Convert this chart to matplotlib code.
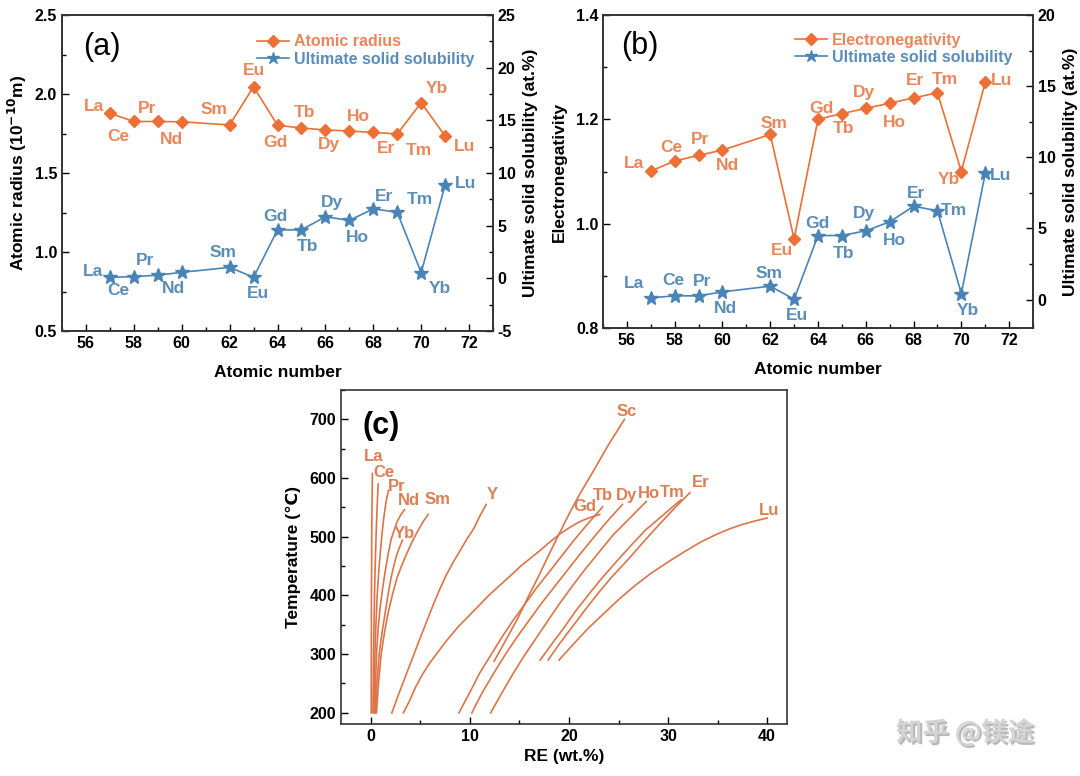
import matplotlib
matplotlib.use('Agg')
import matplotlib.pyplot as plt
import matplotlib.patheffects as pe
from matplotlib.ticker import MultipleLocator
from matplotlib.lines import Line2D

plt.rcParams['font.family'] = ['Liberation Sans', 'DejaVu Sans']
plt.rcParams['font.weight'] = 'bold'
plt.rcParams['axes.labelweight'] = 'bold'
plt.rcParams['axes.unicode_minus'] = False

# ---------------- data ----------------
elements = ['La', 'Ce', 'Pr', 'Nd', 'Sm', 'Eu', 'Gd', 'Tb', 'Dy', 'Ho', 'Er', 'Tm', 'Yb', 'Lu']
atomic_number = [57, 58, 59, 60, 62, 63, 64, 65, 66, 67, 68, 69, 70, 71]
atomic_radius = [1.878, 1.826, 1.826, 1.824, 1.804, 2.046, 1.802, 1.785, 1.772, 1.766, 1.757, 1.747, 1.945, 1.734]
solubility_a = [0.10, 0.16, 0.30, 0.57, 1.04, 0.10, 4.60, 4.60, 5.85, 5.50, 6.60, 6.27, 0.54, 8.86]
electronegativity = [1.101, 1.120, 1.131, 1.141, 1.171, 0.971, 1.200, 1.211, 1.221, 1.231, 1.241, 1.251, 1.100, 1.271]
solubility_b = [0.12, 0.26, 0.26, 0.54, 0.94, 0.02, 4.50, 4.50, 4.83, 5.46, 6.56, 6.24, 0.42, 8.86]

# panel (c): solubility curves, RE wt.% vs temperature
la_wt = [0.05, 0.05, 0.06, 0.07, 0.09, 0.10, 0.13, 0.17]
la_T = [200, 250, 300, 400, 450, 500, 560, 608]
ce_wt = [0.22, 0.25, 0.28, 0.33, 0.38, 0.44, 0.50, 0.56, 0.62, 0.69, 0.76]
ce_T = [200, 250, 300, 350, 400, 445, 480, 512, 540, 568, 590]
pr_wt = [0.32, 0.36, 0.42, 0.52, 0.65, 0.80, 0.95, 1.12, 1.30, 1.55, 1.79]
pr_T = [200, 250, 300, 350, 400, 438, 470, 502, 530, 560, 579]
nd_wt = [0.42, 0.48, 0.58, 0.75, 0.95, 1.20, 1.45, 1.75, 2.05, 2.40, 2.70, 3.05, 3.40]
nd_T = [200, 250, 300, 345, 380, 412, 440, 470, 495, 513, 527, 538, 546]
yb_wt = [0.48, 0.62, 0.85, 1.15, 1.45, 1.75, 2.05, 2.35, 2.60, 2.95, 3.20]
yb_T = [200, 250, 300, 338, 370, 402, 430, 452, 468, 484, 494]
sm_wt = [0.58, 0.78, 1.05, 1.40, 1.75, 2.20, 2.65, 3.15, 3.65, 4.20, 4.75, 5.30, 5.80]
sm_T = [200, 250, 300, 338, 370, 402, 430, 452, 472, 492, 510, 526, 538]
y_wt = [2.13, 2.80, 3.50, 4.25, 5.00, 5.70, 6.40, 7.00, 7.60, 8.30, 9.00, 9.70, 10.40, 11.00, 11.65]
y_T = [200, 231, 262, 295, 328, 358, 388, 412, 434, 456, 476, 496, 514, 535, 555]
gd_wt = [3.30, 3.90, 4.50, 5.20, 6.00, 6.80, 7.60, 8.90, 10.30, 11.90, 13.60, 15.20, 16.90,
         18.00, 19.10, 20.10, 21.00, 22.00, 23.10]
gd_T = [200, 220, 243, 265, 286, 304, 322, 348, 372, 400, 426, 451, 474,
        490, 505, 516, 525, 532, 538]
sc_wt = [12.45, 13.60, 14.80, 15.90, 17.00, 18.05, 19.10, 20.05, 21.00, 22.50, 24.00, 25.60]
sc_T = [288, 323, 360, 398, 435, 472, 508, 540, 570, 613, 657, 700]
tb_wt = [8.90, 10.00, 11.00, 12.10, 13.20, 14.30, 15.50, 16.70, 18.00, 19.30, 20.60, 22.00, 23.40]
tb_T = [200, 235, 268, 298, 328, 356, 384, 412, 440, 468, 496, 524, 551]
dy_wt = [10.20, 11.30, 12.50, 13.60, 14.80, 16.00, 17.20, 18.50, 19.80, 21.10, 22.50, 23.90, 25.40]
dy_T = [200, 236, 270, 300, 330, 358, 386, 414, 442, 470, 499, 527, 555]
ho_wt = [12.10, 13.20, 14.30, 15.40, 16.60, 17.80, 19.00, 20.30, 21.60, 23.00, 24.40, 26.10, 27.80]
ho_T = [200, 233, 265, 295, 325, 355, 385, 415, 444, 473, 502, 531, 560]
tm_wt = [17.10, 18.30, 19.50, 20.70, 22.00, 23.30, 24.70, 26.20, 27.70, 29.50, 31.30]
tm_T = [290, 318, 345, 374, 402, 429, 456, 484, 511, 537, 563]
er_wt = [17.90, 19.10, 20.40, 21.70, 23.00, 24.40, 25.90, 27.40, 28.90, 30.50, 32.20]
er_T = [290, 319, 348, 377, 405, 433, 460, 489, 517, 546, 575]
lu_wt = [19.00, 20.50, 22.00, 23.50, 24.95, 26.60, 28.30, 30.00, 31.60, 33.30, 35.00,
         36.30, 37.50, 38.80, 40.00]
lu_T = [290, 318, 345, 369, 392, 416, 438, 457, 474, 491, 505, 514, 521, 527, 532]

# ---------------- styling ----------------
ORANGE = '#EC6F36'
ORANGE_T = '#EA875A'
BLUE = '#4A84B6'
BLUE_T = '#5A8DBA'
CLINE = '#DC7447'
CTEXT = '#DD7E55'
LBL = 12.5

fig = plt.figure(figsize=(10.8, 7.76), dpi=100)


def style_axis(ax):
    ax.tick_params(which='both', direction='in', labelsize=11.5, width=1.0)
    ax.tick_params(which='major', length=5)
    ax.tick_params(which='minor', length=3)
    for s in ax.spines.values():
        s.set_linewidth(1.2)
        s.set_color('#333333')
    for lab in ax.get_xticklabels() + ax.get_yticklabels():
        lab.set_fontweight('bold')


def label_points(ax, xs, ys, names, offsets, color):
    for x, y, n, (dx, dy) in zip(xs, ys, names, offsets):
        ax.annotate(n, (x, y), xytext=(dx, dy), textcoords='offset pixels',
                    ha='center', va='center', fontsize=LBL, fontweight='bold', color=color)


# ---------- panel (a) ----------
axA = fig.add_axes([62 / 1080, 1 - 331 / 776, 431 / 1080, 316 / 776])
axA2 = axA.twinx()
axA.plot(atomic_number, atomic_radius, '-D', color=ORANGE, lw=1.2, ms=6.5)
axA2.plot(atomic_number, solubility_a, '-*', color=BLUE, lw=1.2, ms=10.5)
axA.set_xlim(55, 73)
axA.set_ylim(0.5, 2.5)
axA2.set_ylim(-5, 25)
axA.xaxis.set_major_locator(MultipleLocator(2))
axA.xaxis.set_minor_locator(MultipleLocator(1))
axA.yaxis.set_major_locator(MultipleLocator(0.5))
axA.yaxis.set_minor_locator(MultipleLocator(0.25))
axA2.yaxis.set_major_locator(MultipleLocator(5))
axA2.yaxis.set_minor_locator(MultipleLocator(2.5))
axA.set_xlabel('Atomic number', fontsize=12.5, fontweight='bold', labelpad=10)
axA.set_ylabel('Atomic radius (10$^{\\mathbf{-10}}$m)', fontsize=12.5, fontweight='bold', labelpad=4)
axA2.set_ylabel('Ultimate solid solubility (at.%)', fontsize=12.5, fontweight='bold', labelpad=5)
style_axis(axA)
style_axis(axA2)
axA.text(0.093, 0.90, '(a)', transform=axA.transAxes, fontsize=22, fontweight='normal',
         ha='center', va='center')
off_rad_a = [(-16, 7), (-16, -15), (-11, 13), (-10, -18), (-16, 15), (0, 16), (-2, -17),
             (3, 15), (4, -14), (9, 14), (13, -16), (22, -17), (16, 14), (19, -10)]
off_sol_a = [(-17, 6), (-16, -14), (-13, 15), (-8, -16), (-7, 15), (4, -16), (-2, 13),
             (6, -17), (7, 14), (8, -17), (11, 12), (23, 13), (19, -16), (20, 2)]
label_points(axA, atomic_number, atomic_radius, elements, off_rad_a, ORANGE_T)
label_points(axA2, atomic_number, solubility_a, elements, off_sol_a, BLUE_T)
hA = [Line2D([], [], color=ORANGE, marker='D', ms=6, lw=1.2),
      Line2D([], [], color=BLUE, marker='*', ms=9, lw=1.2)]
axA2.legend(hA, ['Atomic radius', 'Ultimate solid solubility'], loc='upper right',
            bbox_to_anchor=(0.99, 0.985), frameon=False,
            handlelength=2.0, handletextpad=0.3, labelspacing=0.15,
            labelcolor=[ORANGE_T, BLUE_T], prop={'weight': 'bold', 'size': 11.5})

# ---------- panel (b) ----------
axB = fig.add_axes([603 / 1080, 1 - 328 / 776, 430 / 1080, 313 / 776])
axB2 = axB.twinx()
axB.plot(atomic_number, electronegativity, '-D', color=ORANGE, lw=1.2, ms=6.5)
axB2.plot(atomic_number, solubility_b, '-*', color=BLUE, lw=1.2, ms=10.5)
axB.set_xlim(55, 73)
axB.set_ylim(0.8, 1.4)
axB2.set_ylim(-2, 20)
axB.xaxis.set_major_locator(MultipleLocator(2))
axB.xaxis.set_minor_locator(MultipleLocator(1))
axB.yaxis.set_major_locator(MultipleLocator(0.2))
axB.yaxis.set_minor_locator(MultipleLocator(0.1))
axB2.yaxis.set_major_locator(MultipleLocator(5))
axB2.yaxis.set_minor_locator(MultipleLocator(2.5))
axB.set_xlabel('Atomic number', fontsize=12.5, fontweight='bold', labelpad=10)
axB.set_ylabel('Electronegativity', fontsize=12.5, fontweight='bold', labelpad=6)
axB2.set_ylabel('Ultimate solid solubility (at.%)', fontsize=12.5, fontweight='bold', labelpad=5)
style_axis(axB)
style_axis(axB2)
axB.text(0.086, 0.90, '(b)', transform=axB.transAxes, fontsize=22, fontweight='normal',
         ha='center', va='center')
off_en_b = [(-17, 7), (-3, 14), (2, 16), (5, -15), (4, 11), (-12, -12), (3, 11),
            (2, -15), (-2, 16), (5, -19), (1, 17), (7, 13), (-12, -8), (16, 2)]
off_sol_b = [(-17, 14), (-1, 15), (4, 14), (3, -17), (-1, 13), (3, -16), (-1, 12),
             (2, -18), (-2, 17), (5, -19), (2, 13), (16, 0), (7, -17), (15, -2)]
label_points(axB, atomic_number, electronegativity, elements, off_en_b, ORANGE_T)
label_points(axB2, atomic_number, solubility_b, elements, off_sol_b, BLUE_T)
axB2.legend(hA, ['Electronegativity', 'Ultimate solid solubility'], loc='upper right',
            bbox_to_anchor=(0.985, 0.99), frameon=False,
            handlelength=2.0, handletextpad=0.3, labelspacing=0.15,
            labelcolor=[ORANGE_T, BLUE_T], prop={'weight': 'bold', 'size': 11.5})

# ---------- panel (c) ----------
axC = fig.add_axes([341 / 1080, 1 - 724 / 776, 446 / 1080, 334 / 776])
curves = [(la_wt, la_T), (ce_wt, ce_T), (pr_wt, pr_T), (nd_wt, nd_T), (yb_wt, yb_T),
          (sm_wt, sm_T), (y_wt, y_T), (gd_wt, gd_T), (sc_wt, sc_T), (tb_wt, tb_T),
          (dy_wt, dy_T), (ho_wt, ho_T), (tm_wt, tm_T), (er_wt, er_T), (lu_wt, lu_T)]
for wt, T in curves:
    axC.plot(wt, T, '-', color=CLINE, lw=1.2, solid_joinstyle='round')
axC.set_xlim(-3, 42)
axC.set_ylim(181, 750)
axC.xaxis.set_major_locator(MultipleLocator(10))
axC.xaxis.set_minor_locator(MultipleLocator(5))
axC.yaxis.set_major_locator(MultipleLocator(100))
axC.yaxis.set_minor_locator(MultipleLocator(50))
axC.set_xlabel('RE (wt.%)', fontsize=12.5, fontweight='bold', labelpad=4)
axC.set_ylabel('Temperature (\u2103)', fontsize=12.5, fontweight='bold', labelpad=6)
style_axis(axC)
axC.text(1.0, 688, '(c)', fontsize=22, fontweight='bold', ha='center', va='center')
c_labels = {'La': (0.3, 636), 'Ce': (1.35, 610), 'Pr': (2.6, 585), 'Nd': (3.9, 561),
            'Sm': (6.7, 563), 'Yb': (3.4, 505), 'Y': (12.3, 572), 'Gd': (21.65, 551),
            'Tb': (23.45, 571), 'Dy': (25.8, 571), 'Ho': (28.1, 573), 'Tm': (30.4, 575),
            'Er': (33.3, 593), 'Lu': (40.2, 545), 'Sc': (25.8, 713)}
for name, (x, y) in c_labels.items():
    axC.text(x, y, name, fontsize=12, fontweight='bold', color=CTEXT, ha='center', va='center')

# watermark
fig.text(965 / 1080, 1 - 733 / 776, '知乎 @镁途', fontsize=19, color='#d4d4d4',
         family=['Noto Sans CJK SC', 'DejaVu Sans'], ha='center', va='center',
         path_effects=[pe.withSimplePatchShadow(offset=(1.5, -1.5), shadow_rgbFace='#8a8a8a', alpha=0.6)])

fig.savefig('out.png', dpi=100)
